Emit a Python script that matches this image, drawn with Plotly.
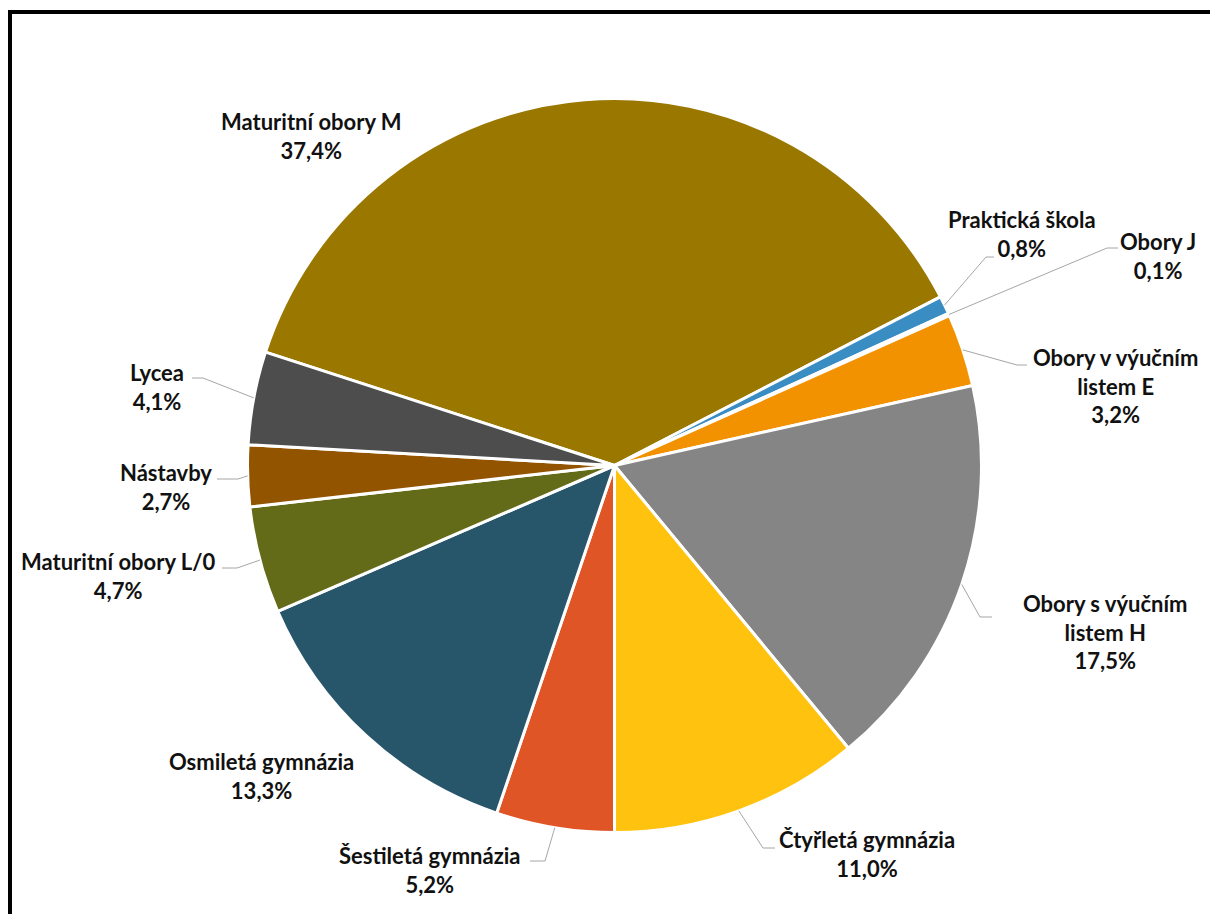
import math
import plotly.graph_objects as go

# ---- data ----
categories = [
    "Maturitní obory M",
    "Praktická škola",
    "Obory J",
    "Obory v výučním listem E",
    "Obory s výučním listem H",
    "Čtyřletá gymnázia",
    "Šestiletá gymnázia",
    "Osmiletá gymnázia",
    "Maturitní obory L/0",
    "Nástavby",
    "Lycea",
]
shares = [37.4, 0.8, 0.1, 3.2, 17.5, 11.0, 5.2, 13.3, 4.7, 2.7, 4.1]

# ---- styles / layout ----
colors = ["#9A7800", "#3A8DC2", "#F4F4F4", "#F39200", "#858585", "#FFC20E",
          "#E05526", "#275569", "#646B18", "#935400", "#4D4D4D"]
label_text = {
    "Obory v výučním listem E": "Obory v výučním<br>listem E",
    "Obory s výučním listem H": "Obory s výučním<br>listem H",
}
W, H = 1210, 914
CX, CY, R = 614.5, 465.5, 367.0
ROTATION = -72

# label block centers (pixels)
label_pos = {
    "Maturitní obory M": (311, 136),
    "Praktická škola": (1022, 234),
    "Obory J": (1158, 256),
    "Obory v výučním listem E": (1115, 386),
    "Obory s výučním listem H": (1105, 632),
    "Čtyřletá gymnázia": (867, 854),
    "Šestiletá gymnázia": (430, 870),
    "Osmiletá gymnázia": (261, 776),
    "Maturitní obory L/0": (118, 576),
    "Nástavby": (166, 487),
    "Lycea": (157, 387),
}
# leader line elbow and end points (pixels)
leaders = {
    "Praktická škola": ((986, 257), (994, 257)),
    "Obory J": ((1107, 248), (1118, 248)),
    "Obory v výučním listem E": ((1017, 365), (1027, 365)),
    "Obory s výučním listem H": ((980, 617), (992, 617)),
    "Čtyřletá gymnázia": ((763, 848), (775, 848)),
    "Šestiletá gymnázia": ((545, 861), (530, 861)),
    "Maturitní obory L/0": ((237, 568), (222, 568)),
    "Nástavby": ((238, 479), (217, 479)),
    "Lycea": ((203, 378), (192, 378)),
}

def px(x):
    return x / W

def py(y):
    return 1 - y / H

fig = go.Figure(go.Pie(
    labels=categories,
    values=shares,
    sort=False,
    direction="clockwise",
    rotation=ROTATION,
    marker=dict(colors=colors, line=dict(color="white", width=3)),
    textinfo="none",
    hoverinfo="label+percent",
    showlegend=False,
    domain=dict(x=[(CX - R) / W, (CX + R) / W], y=[(H - CY - R) / H, (H - CY + R) / H]),
))

annotations = []
shapes = []
total = sum(shares)
cum = 0.0
for name, v in zip(categories, shares):
    mid = ROTATION + (cum + v / 2) / total * 360.0
    cum += v
    pct = f"{v:.1f}".replace(".", ",") + "%"
    txt = label_text.get(name, name) + "<br>" + pct
    lx, ly = label_pos[name]
    annotations.append(dict(
        x=px(lx), y=py(ly), xref="paper", yref="paper", text=txt,
        showarrow=False, xanchor="center", yanchor="middle", align="center",
        font=dict(family="Lato", size=22, color="#111111", weight=700),
    ))
    if name in leaders:
        a = math.radians(mid)
        sx = CX + R * math.sin(a)
        sy = CY - R * math.cos(a)
        (ex, ey), (tx, ty) = leaders[name]
        path = f"M {px(sx)} {py(sy)} L {px(ex)} {py(ey)} L {px(tx)} {py(ty)}"
        shapes.append(dict(type="path", path=path, xref="paper", yref="paper",
                           line=dict(color="#A6A6A6", width=1)))

# outer frame
shapes.append(dict(type="rect", xref="paper", yref="paper",
                   x0=px(10), x1=px(1240), y0=py(950), y1=py(12),
                   line=dict(color="black", width=4), fillcolor="rgba(0,0,0,0)"))

fig.update_layout(
    width=W, height=H,
    margin=dict(l=0, r=0, t=0, b=0),
    paper_bgcolor="white",
    plot_bgcolor="white",
    annotations=annotations,
    shapes=shapes,
)

fig.write_html("out.html",
               config={"displayModeBar": False},
               post_script="document.body.style.margin='0';document.body.style.overflow='hidden';")
